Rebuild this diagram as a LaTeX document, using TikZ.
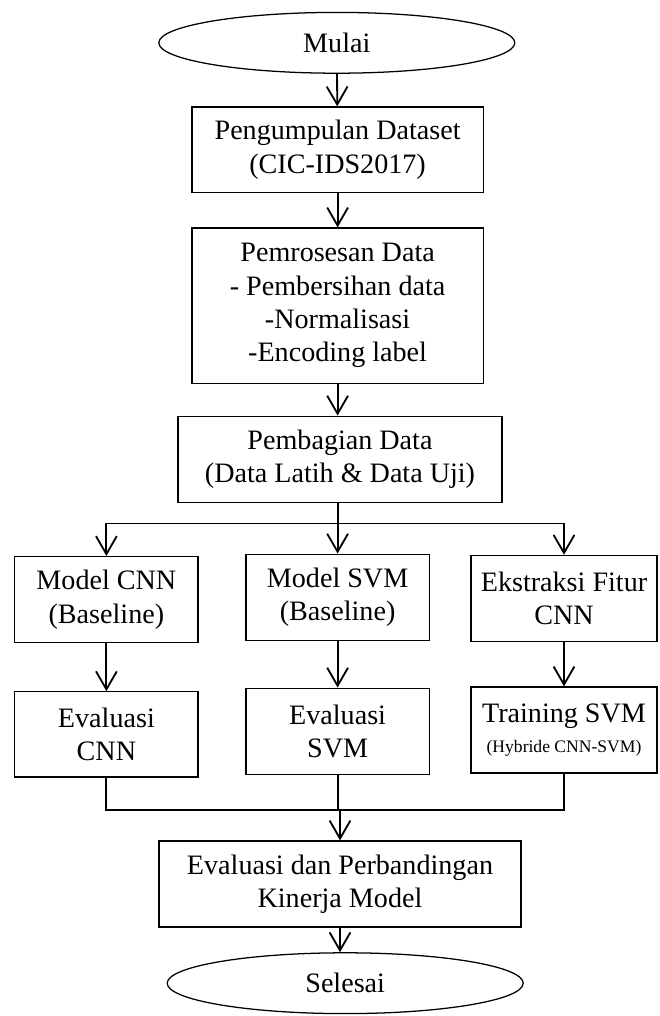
\documentclass[tikz,border=0pt]{standalone}
\usepackage{fontspec}
\setmainfont{Liberation Serif}
\usetikzlibrary{positioning,calc,arrows.meta,shapes.geometric}

\tikzset{
	kotak/.style={draw=black, line width=0.9pt, rectangle, align=center, inner sep=2pt,
		font=\fontsize{20}{23.8}\selectfont, minimum height=2.15cm},
	terminal/.style={draw=black, line width=0.9pt, ellipse, inner sep=0pt,
		font=\fontsize{20}{23.8}\selectfont, minimum width=8.9cm, minimum height=1.52cm},
	panah/.style={line width=1.3pt, -{Straight Barb[length=4.5mm,width=5.2mm,line width=1.3pt]}},
	garis/.style={line width=1.3pt}
}

\begin{document}
\begin{tikzpicture}
	% frame of the page
	\useasboundingbox (0,0) rectangle (16.475,-25.4);
	
	% main column
	\node[terminal] (mulai) at (8.42,-1.07) {Mulai};
	\node[kotak, minimum width=7.28cm, minimum height=2.13cm] (kumpul) at (8.44,-3.74)
	{Pengumpulan Dataset\\(CIC-IDS2017)};
	\node[kotak, minimum width=7.28cm, minimum height=3.88cm] (proses) at (8.44,-7.64)
	{Pemrosesan Data\\- Pembersihan data\\-Normalisasi\\-Encoding label};
	\node[kotak, minimum width=8.1cm] (bagi) at (8.5,-11.48)
	{Pembagian Data\\(Data Latih \& Data Uji)};
	
	% three branches
	\node[kotak, minimum width=4.58cm] (cnn) at (2.66,-14.99) {Model CNN\\(Baseline)};
	\node[kotak, minimum width=4.58cm] (svm) at (8.44,-14.93) {Model SVM\\(Baseline)};
	\node[kotak, minimum width=4.65cm] (fitur) at (14.1,-14.96) {Ekstraksi Fitur\\CNN};
	
	\node[kotak, minimum width=4.58cm, minimum height=2.13cm] (evcnn) at (2.66,-18.36) {Evaluasi\\CNN};
	\node[kotak, minimum width=4.58cm] (evsvm) at (8.44,-18.28) {Evaluasi\\SVM};
	\node[kotak, minimum width=4.65cm] (trsvm) at (14.1,-18.25)
	{Training SVM\\[-2pt]{\fontsize{12.5}{15}\selectfont (Hybride CNN-SVM)}};
	
	% end
	\node[kotak, minimum width=9.05cm] (banding) at (8.5,-22.1)
	{Evaluasi dan Perbandingan\\Kinerja Model};
	\node[terminal] (selesai) at (8.63,-24.58) {Selesai};
	
	% connectors
	\draw[panah] (mulai) -- (kumpul);
	\draw[panah] (kumpul) -- (proses);
	\draw[panah] (proses) -- (bagi.north -| proses);
	
	\coordinate (pisah) at ($(svm.north)+(0,0.75)$);
	\draw[garis] (bagi.south -| svm) -- (pisah);
	\draw[panah] (pisah) -| (cnn.north);
	\draw[panah] (pisah) -| (fitur.north);
	\draw[panah] (pisah) -- (svm.north);
	
	\draw[panah] (cnn) -- (evcnn);
	\draw[panah] (svm) -- (evsvm);
	\draw[panah] (fitur) -- (trsvm);
	
	\coordinate (gabung) at (8.5,-20.25);
	\draw[garis] (evcnn.south) |- (gabung);
	\draw[garis] (trsvm.south) |- (gabung);
	\draw[garis] (evsvm.south) -- (evsvm.south |- gabung);
	\draw[panah] (gabung) -- (banding.north);
	\draw[panah] (banding) -- (selesai.north -| banding);
\end{tikzpicture}
\end{document}
